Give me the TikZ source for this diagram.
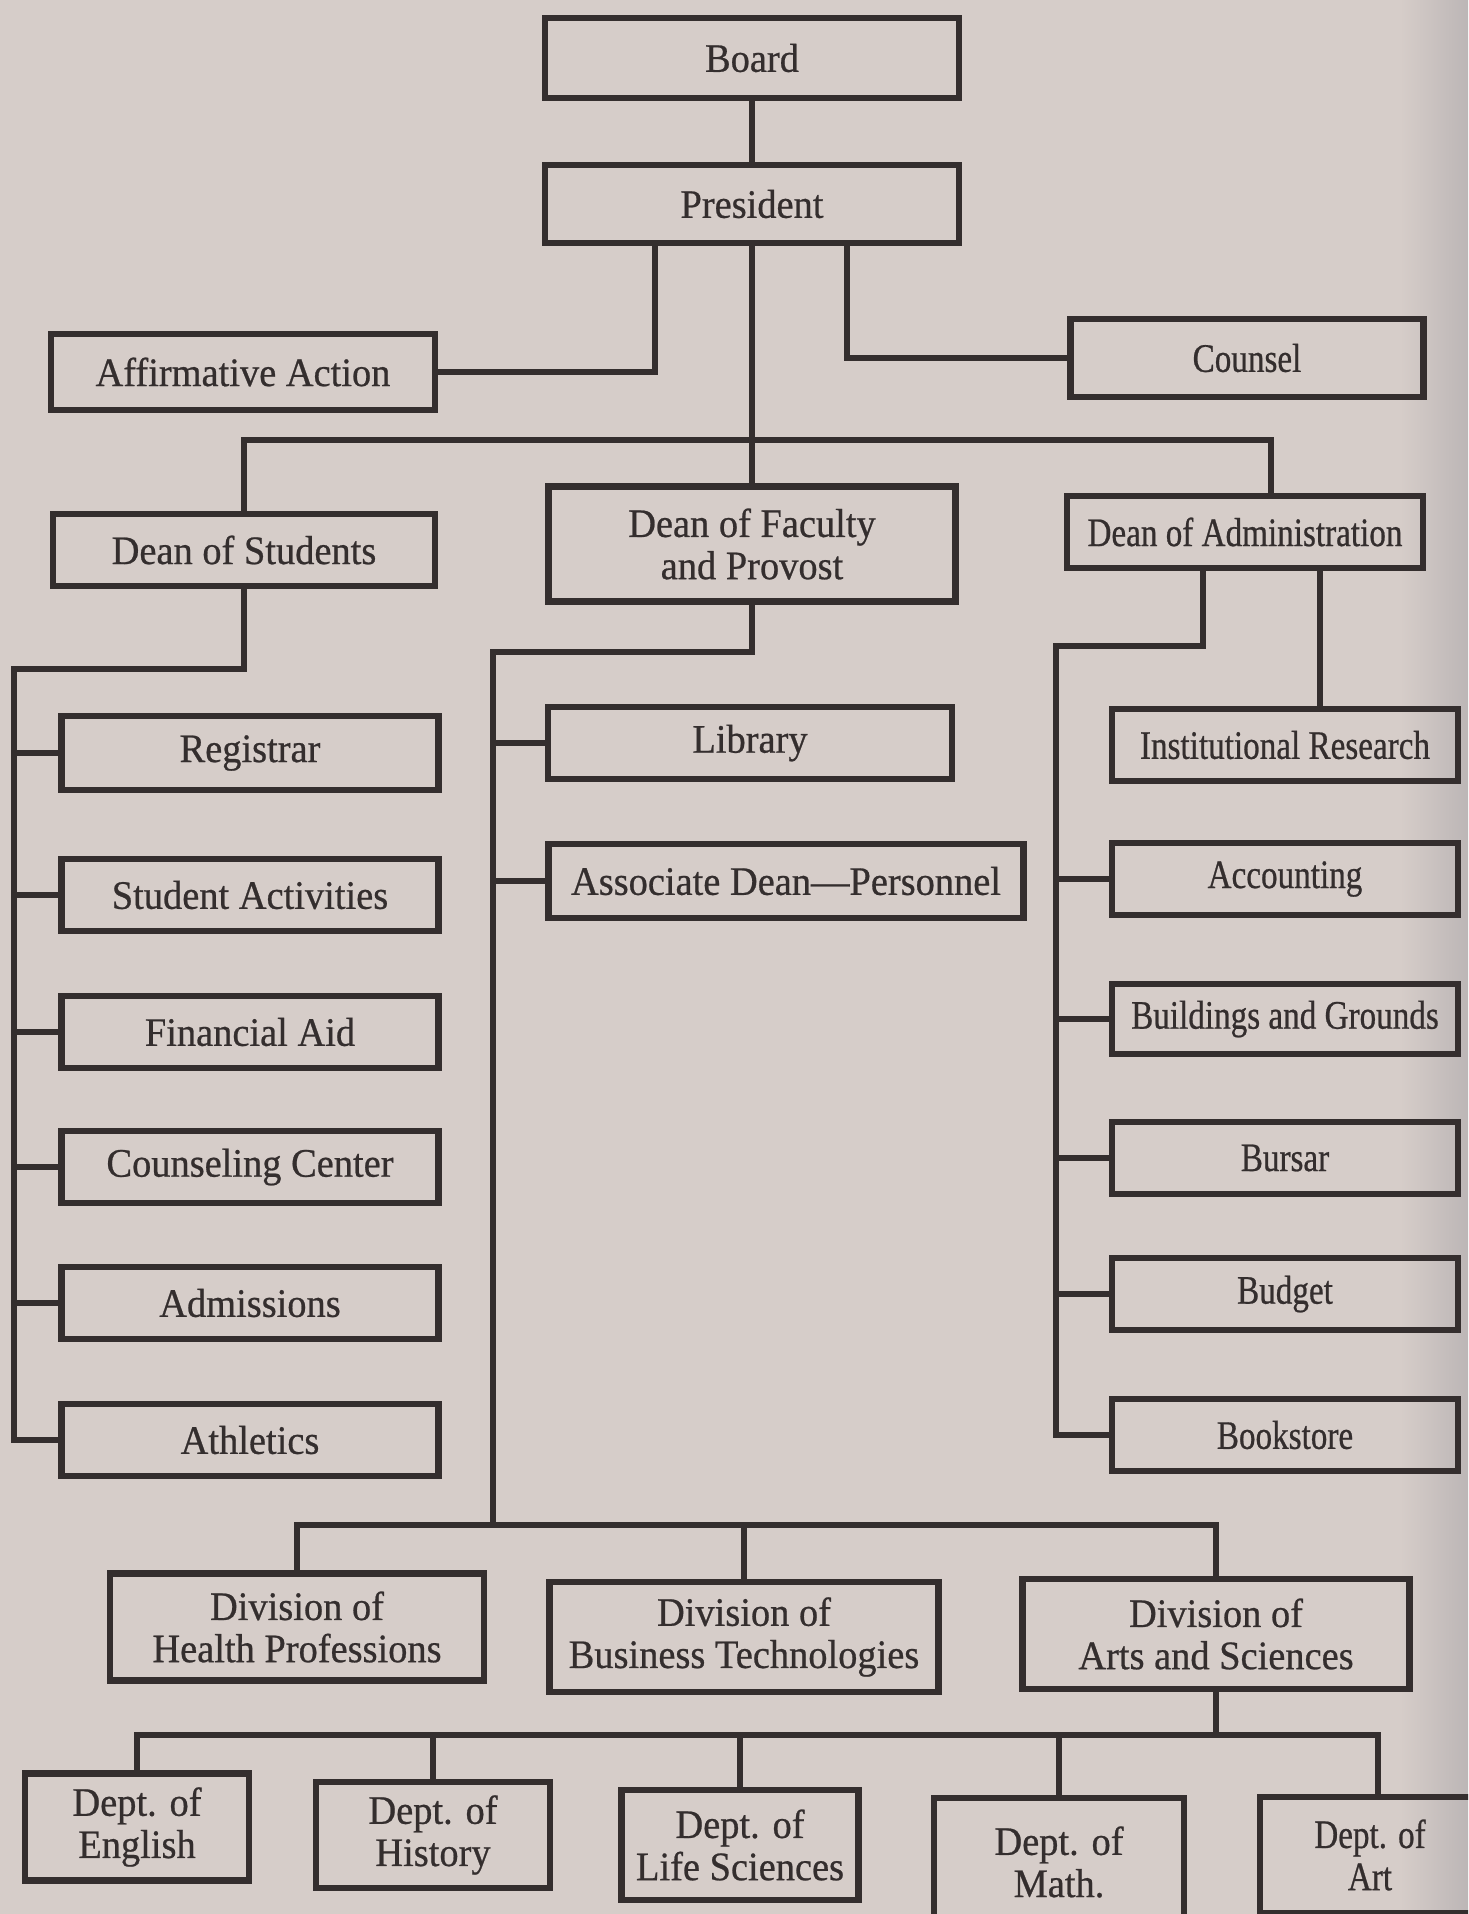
\documentclass[tikz,border=0pt]{standalone}
\usepackage{fontspec}
\setmainfont[FakeStretch=0.95,FakeBold=0.6]{Liberation Serif}
\definecolor{paper}{RGB}{214,205,201}
\definecolor{papershade}{RGB}{188,182,182}
\definecolor{ink}{RGB}{52,46,46}

\begin{document}
\begin{tikzpicture}[x=0.01cm,y=-0.01cm,
    box/.style={draw=ink,line width=1.8pt,text=ink,align=center,inner sep=0pt,
      font=\fontsize{11.5}{12}\selectfont},
    rbox/.style={box,font=\fontsize{11.5}{12}\selectfont\addfontfeatures{FakeStretch=0.82}},
    link/.style={draw=ink,line width=1.6pt}]
    \clip (0,0) rectangle (1468,1914);
    \fill[paper] (0,0) rectangle (1468,1914);
    \shade[left color=paper,right color=papershade] (1400,0) rectangle (1468,1914);

    \node[box,minimum width=4.14cm,minimum height=0.80cm] (board) at (752,58) {Board};
    \node[box,minimum width=4.14cm,minimum height=0.78cm] (president) at (752,204) {President};
    \node[box,minimum width=3.84cm,minimum height=0.76cm] (affirm) at (243,372) {Affirmative Action};
    \node[rbox,minimum width=3.53cm,minimum height=0.78cm] (counsel) at (1247,358) {Counsel};

    \node[box,minimum width=3.82cm,minimum height=0.72cm] (students) at (244,550) {Dean of Students};
    \node[box,minimum width=4.07cm,minimum height=1.15cm] (faculty) at (752,544) {Dean of Faculty\\and Provost};
    \node[rbox,minimum width=3.56cm,minimum height=0.72cm] (admin) at (1245,532) {Dean of Administration};

    \node[box,minimum width=3.77cm,minimum height=0.74cm] (registrar) at (250,753) {Registrar};
    \node[box,minimum width=3.77cm,minimum height=0.72cm] (activities) at (250,895) {Student Activities};
    \node[box,minimum width=3.77cm,minimum height=0.72cm] (aid) at (250,1032) {Financial Aid};
    \node[box,minimum width=3.77cm,minimum height=0.72cm] (counseling) at (250,1167) {Counseling Center};
    \node[box,minimum width=3.77cm,minimum height=0.72cm] (admissions) at (250,1303) {Admissions};
    \node[box,minimum width=3.77cm,minimum height=0.72cm] (athletics) at (250,1440) {Athletics};

    \node[box,minimum width=4.04cm,minimum height=0.72cm] (library) at (750,743) {Library};
    \node[box,minimum width=4.75cm,minimum height=0.74cm] (assoc) at (786,881) {Associate Dean---Personnel};

    \node[rbox,minimum width=3.46cm,minimum height=0.72cm] (inst) at (1285,745) {Institutional Research};
    \node[rbox,minimum width=3.46cm,minimum height=0.72cm] (accounting) at (1285,879) {Accounting};
    \node[rbox,minimum width=3.46cm,minimum height=0.70cm] (buildings) at (1285,1019) {Buildings and Grounds};
    \node[rbox,minimum width=3.46cm,minimum height=0.72cm] (bursar) at (1285,1158) {Bursar};
    \node[rbox,minimum width=3.46cm,minimum height=0.72cm] (budget) at (1285,1294) {Budget};
    \node[rbox,minimum width=3.46cm,minimum height=0.72cm] (bookstore) at (1285,1435) {Bookstore};

    \node[box,minimum width=3.74cm,minimum height=1.07cm] (health) at (297,1627) {Division of\\Health Professions};
    \node[box,minimum width=3.89cm,minimum height=1.10cm] (business) at (744,1637) {Division of\\Business Technologies};
    \node[box,minimum width=3.87cm,minimum height=1.10cm] (arts) at (1216,1634) {Division of\\Arts and Sciences};

    \node[box,minimum width=2.24cm,minimum height=1.07cm] (english) at (137,1827) {Dept. of\\English};
    \node[box,minimum width=2.34cm,minimum height=1.06cm] (history) at (433,1835) {Dept. of\\History};
    \node[box,minimum width=2.37cm,minimum height=1.10cm] (life) at (740,1845) {Dept. of\\Life Sciences};
    \node[box,minimum width=2.50cm,minimum height=1.28cm] (math) at (1059,1862) {Dept. of\\Math.};
    \node[rbox,minimum width=2.20cm,minimum height=1.16cm] (art) at (1370,1855) {Dept. of\\Art};

    \draw[link] (board) -- (president);
    \draw[link] (affirm.east) -| (655,0 |- president.south);
    \draw[link] (counsel.west) -| (847,0 |- president.south);
    \draw[link] (president) -- (faculty);
    \draw[link] (students.north) |- (752,440) -| (1271,0 |- admin.north);

    \draw[link] (students.south) |- (14,669) |- (athletics.west);
    \foreach \n in {registrar,activities,aid,counseling,admissions}
        \draw[link] (\n.west) -- (14,0 |- \n.west);

    \draw[link] (faculty.south) |- (493,652) -- (493,1525);
    \foreach \n in {library,assoc}
        \draw[link] (\n.west) -- (493,0 |- \n.west);

    \draw[link] (1203,0 |- admin.south) |- (1056,646) |- (bookstore.west);
    \draw[link] (1320,0 |- admin.south) -- (1320,0 |- inst.north);
    \foreach \n in {accounting,buildings,bursar,budget}
        \draw[link] (\n.west) -- (1056,0 |- \n.west);

    \draw[link] (health.north) |- (arts.north |- 0,1525) -- (arts.north);
    \draw[link] (business.north) -- (business.north |- 0,1525);

    \draw[link] (arts.south) -- (arts.south |- 0,1735);
    \draw[link] (english.north) |- (1378,1735) -- (1378,0 |- art.north);
    \foreach \n in {history,life,math}
        \draw[link] (\n.north) -- (\n.north |- 0,1735);
\end{tikzpicture}
\end{document}
